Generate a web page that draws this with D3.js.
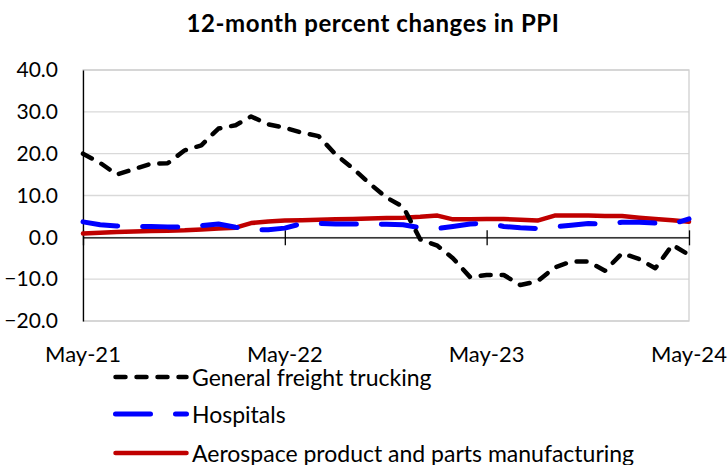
<!DOCTYPE html>
<html>
<head>
<meta charset="utf-8">
<script src="https://cdn.jsdelivr.net/npm/d3@7"></script>
<style>
  body { margin: 0; background: #fff; }
  svg text { font-family: Lato, "Open Sans", sans-serif; fill: #000; }
</style>
</head>
<body>
<script>
// 12-month percent changes, May 2021 .. May 2024 (monthly)
const startMonth = new Date(2021, 4, 1);
const trucking = [20.0, 17.8, 15.0, 16.3, 17.6, 17.7, 20.8, 22.0, 26.0, 26.8, 28.9, 27.0, 26.2,
  25.0, 24.2, 19.8, 16.5, 12.9, 9.5, 7.3, -0.5, -2.0, -5.0, -9.5, -9.0,
  -9.0, -11.4, -10.5, -7.2, -5.8, -5.8, -8.0, -3.8, -5.2, -7.4, -1.8, -4.2];
const hospitals = [3.7, 3.0, 2.7, 2.6, 2.6, 2.5, 2.5, 2.8, 3.2, 2.4, 1.8, 1.8, 2.2,
  3.3, 3.3, 3.2, 3.2, 3.2, 3.1, 3.0, 2.3, 2.1, 2.6, 3.2, 3.4,
  2.6, 2.3, 2.1, 2.5, 2.9, 3.3, 3.1, 3.6, 3.6, 3.4, 3.2, 4.4];
const aerospace = [0.9, 1.1, 1.3, 1.4, 1.5, 1.6, 1.7, 1.9, 2.1, 2.3, 3.4, 3.8, 4.0,
  4.1, 4.2, 4.3, 4.4, 4.5, 4.6, 4.7, 4.9, 5.2, 4.3, 4.3, 4.4,
  4.4, 4.2, 4.0, 5.2, 5.2, 5.2, 5.1, 5.1, 4.7, 4.4, 4.1, 3.7];
const yTicks = [-20, -10, 0, 10, 20, 30, 40];
const xTickIdx = [0, 12, 24, 36];
const seriesNames = ["General freight trucking", "Hospitals", "Aerospace product and parts manufacturing"];

const W = 728, H = 465;
const margin = { top: 70, right: 39, bottom: 144, left: 83 };
const w = W - margin.left - margin.right,
      h = H - margin.top - margin.bottom;

const dates = trucking.map((d, i) => d3.timeMonth.offset(startMonth, i));
const xTickDates = xTickIdx.map(i => dates[i]);

const svg = d3.select("body").append("svg")
    .attr("width", W)
    .attr("height", H);

svg.append("text")
    .attr("x", 373).attr("y", 22)
    .attr("text-anchor", "middle")
    .attr("dominant-baseline", "central")
    .style("font-weight", "bold")
    .style("font-size", "24px")
    .style("letter-spacing", "0.6px")
    .text("12-month percent changes in PPI");

const g = svg.append("g")
    .attr("transform", "translate(" + margin.left + "," + margin.top + ")");

const x = d3.scaleTime()
    .domain([dates[0], dates[dates.length - 1]])
    .range([0, w]);

const y = d3.scaleLinear()
    .domain([-20, 40])
    .range([h, 0]);

// gridlines
g.selectAll(".grid")
    .data(yTicks)
    .enter().append("line")
    .attr("x1", 0).attr("x2", w)
    .attr("y1", d => y(d)).attr("y2", d => y(d))
    .attr("stroke", "#d9d9d9")
    .attr("stroke-width", 1.3);

// plot border
g.append("rect")
    .attr("width", w).attr("height", h)
    .attr("fill", "none")
    .attr("stroke", "#d0d0d0")
    .attr("stroke-width", 1.3);

// y axis labels
const yAxis = g.append("g")
    .call(d3.axisLeft(y).tickValues(yTicks).tickSize(0).tickPadding(25).tickFormat(d3.format(".1f")));
yAxis.select(".domain").attr("stroke", "#000").attr("stroke-width", 1.3);
yAxis.selectAll("text").style("font-size", "21px");

// x axis at zero
const xAxis = g.append("g")
    .attr("transform", "translate(0," + y(0) + ")")
    .call(d3.axisBottom(x).tickValues(xTickDates).tickSize(8).tickSizeOuter(0).tickFormat(() => ""));
xAxis.select(".domain").attr("stroke", "#000").attr("stroke-width", 1.3);
xAxis.selectAll(".tick line").attr("stroke", "#000").attr("y1", -7).attr("stroke-width", 1.3);

// x tick labels at bottom
g.selectAll(".xlab")
    .data(xTickDates)
    .enter().append("text")
    .attr("x", d => x(d))
    .attr("y", h + 32)
    .attr("text-anchor", "middle")
    .attr("dominant-baseline", "central")
    .style("font-size", "22px")
    .text(d3.timeFormat("%b-%y"));

const line = d3.line()
    .x((d, i) => x(dates[i]))
    .y(d => y(d));

const styles = [
  { data: aerospace, color: "#c00000", width: 4.5, dash: null },
  { data: hospitals, color: "#0000ff", width: 5, dash: "35,25" },
  { data: trucking, color: "#000000", width: 4.5, dash: "10,11" }
];

styles.forEach(s => {
    g.append("path")
        .datum(s.data)
        .attr("fill", "none")
        .attr("stroke", s.color)
        .attr("stroke-width", s.width)
        .attr("stroke-linecap", "round")
        .attr("stroke-linejoin", "round")
        .attr("stroke-dasharray", s.dash)
        .attr("d", line);
});

// legend
const legendStyles = [styles[2], styles[1], styles[0]];
const legendY = [377, 414, 453];
const legend = svg.selectAll(".legend")
    .data(seriesNames)
    .enter().append("g")
    .attr("transform", (d, i) => "translate(0," + legendY[i] + ")");

legend.append("line")
    .attr("x1", 115.5).attr("x2", 186.5)
    .attr("stroke", (d, i) => legendStyles[i].color)
    .attr("stroke-width", (d, i) => legendStyles[i].width)
    .attr("stroke-linecap", "round")
    .attr("stroke-dasharray", (d, i) => legendStyles[i].dash);

legend.append("text")
    .attr("x", 192)
    .attr("dominant-baseline", "central")
    .style("font-size", "23px")
    .text(d => d);
</script>
</body>
</html>
